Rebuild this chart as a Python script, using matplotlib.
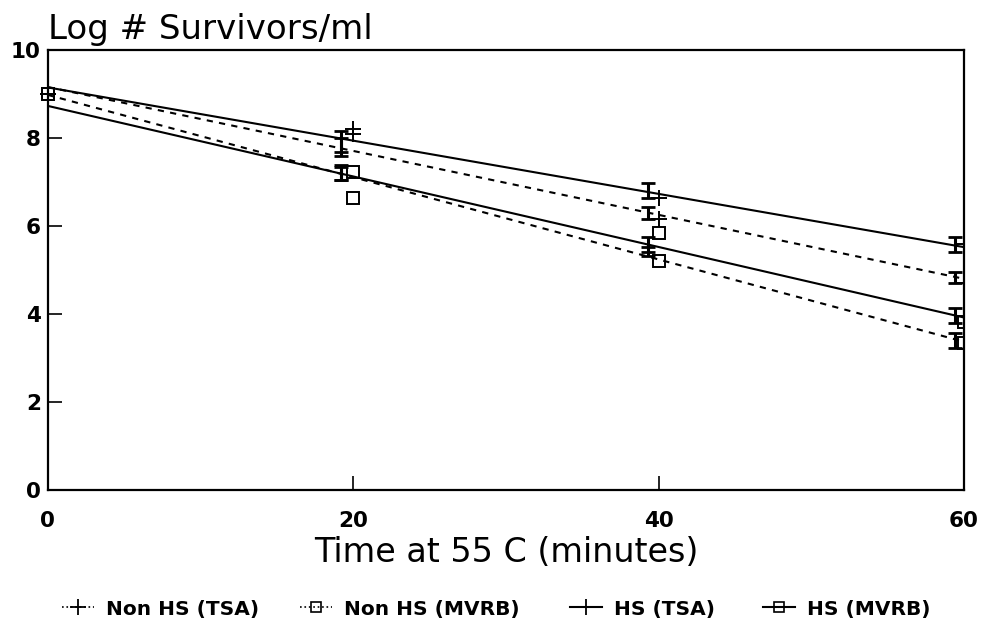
import matplotlib
matplotlib.use("Agg")
import matplotlib.pyplot as plt
from matplotlib.lines import Line2D

# ---------------- data ----------------
series_names = ["Non HS (TSA)", "Non HS (MVRB)", "HS (TSA)", "HS (MVRB)"]

times = [0, 20, 40, 60]
obs_nonhs_tsa = [9.0, 8.10, 6.15, 4.70]
obs_nonhs_mvrb = [9.0, 6.63, 5.20, 3.33]
obs_hs_tsa = [9.0, 8.20, 6.64, 5.60]
obs_hs_mvrb = [9.0, 7.23, 5.84, 3.82]

# regression lines (value at t=0 and t=60)
fit_t = [0, 60]
fit_nonhs_tsa = [9.16, 4.80]
fit_nonhs_mvrb = [8.98, 3.37]
fit_hs_tsa = [9.15, 5.52]
fit_hs_mvrb = [8.73, 3.92]

# mean +/- SE bars
err_t = [19.2, 39.3, 59.4]
mean_nonhs_tsa = [7.80, 6.30, 4.83]
se_nonhs_tsa = [0.20, 0.14, 0.13]
mean_nonhs_mvrb = [7.20, 5.42, 3.39]
se_nonhs_mvrb = [0.15, 0.10, 0.17]
mean_hs_tsa = [7.92, 6.80, 5.59]
se_hs_tsa = [0.24, 0.17, 0.17]
mean_hs_mvrb = [7.22, 5.58, 3.96]
se_hs_mvrb = [0.17, 0.18, 0.17]

x_ticks = [0, 20, 40, 60]
y_ticks = [0, 2, 4, 6, 8, 10]
title_text = "Log # Survivors/ml"
xlabel_text = "Time at 55 C (minutes)"

# ---------------- figure ----------------
plt.rcParams['font.family'] = ['DejaVu Sans']
fig = plt.figure(figsize=(9.84, 6.31), dpi=100)
ax = fig.add_axes([47.7 / 984, 1 - 490 / 631, (964 - 47.7) / 984, (490 - 50) / 631])

DASH = (0, (3, 3))
series = [
    (obs_nonhs_tsa, fit_nonhs_tsa, mean_nonhs_tsa, se_nonhs_tsa, '+', DASH),
    (obs_nonhs_mvrb, fit_nonhs_mvrb, mean_nonhs_mvrb, se_nonhs_mvrb, 's', DASH),
    (obs_hs_tsa, fit_hs_tsa, mean_hs_tsa, se_hs_tsa, '+', '-'),
    (obs_hs_mvrb, fit_hs_mvrb, mean_hs_mvrb, se_hs_mvrb, 's', '-'),
]

for obs, fit, mean, se, mk, ls in series:
    ax.plot(fit_t, fit, color='black', lw=1.5, linestyle=ls, zorder=3)
    msize = 12 if mk == '+' else 8.5
    ax.plot(times[:-1], obs[:-1], linestyle='none', marker=mk, markersize=msize,
            markerfacecolor='none', markeredgecolor='black', markeredgewidth=1.4,
            clip_on=False, zorder=4)
    ax.plot(times[-1:], obs[-1:], linestyle='none', marker=mk, markersize=msize,
            markerfacecolor='none', markeredgecolor='black', markeredgewidth=1.4,
            clip_on=True, zorder=4)
    ax.errorbar(err_t, mean, yerr=se, fmt='none', ecolor='black', elinewidth=2.2,
                capsize=5, capthick=2.0, zorder=5)

ax.set_xlim(0, 60)
ax.set_ylim(0, 10)
ax.set_xticks(x_ticks)
ax.set_yticks(y_ticks)
ax.tick_params(direction='in', length=10, width=1.2, labelsize=15.5)
ax.tick_params(axis='x', pad=15)
ax.tick_params(axis='y', pad=5)
for lab in ax.get_xticklabels() + ax.get_yticklabels():
    lab.set_fontweight('bold')
for sp in ax.spines.values():
    sp.set_linewidth(1.6)

ax.set_xlabel(xlabel_text, fontsize=24, labelpad=4)
fig.text(48 / 984, 1 - 29 / 631, title_text, fontsize=24.5, ha='left', va='center')

handles = [
    Line2D([], [], color='black', lw=1.2, linestyle=':', marker='+', markersize=11,
           markeredgewidth=1.3),
    Line2D([], [], color='black', lw=1.2, linestyle=':', marker='s', markersize=7,
           markerfacecolor='none', markeredgewidth=1.2),
    Line2D([], [], color='black', lw=1.5, linestyle='-', marker='+', markersize=11,
           markeredgewidth=1.3),
    Line2D([], [], color='black', lw=1.5, linestyle='-', marker='s', markersize=7,
           markerfacecolor='none', markeredgewidth=1.2),
]
legend_left_px = [62, 300, 570, 763]
for h, name, xl in zip(handles, series_names, legend_left_px):
    fig.legend([h], [name], loc='center left',
               bbox_to_anchor=(xl / 984, 1 - 609 / 631),
               frameon=False, handlelength=1.6, handletextpad=0.6,
               borderpad=0, borderaxespad=0,
               prop={'weight': 'bold', 'size': 14.5})

fig.savefig("out.png", dpi=100)
